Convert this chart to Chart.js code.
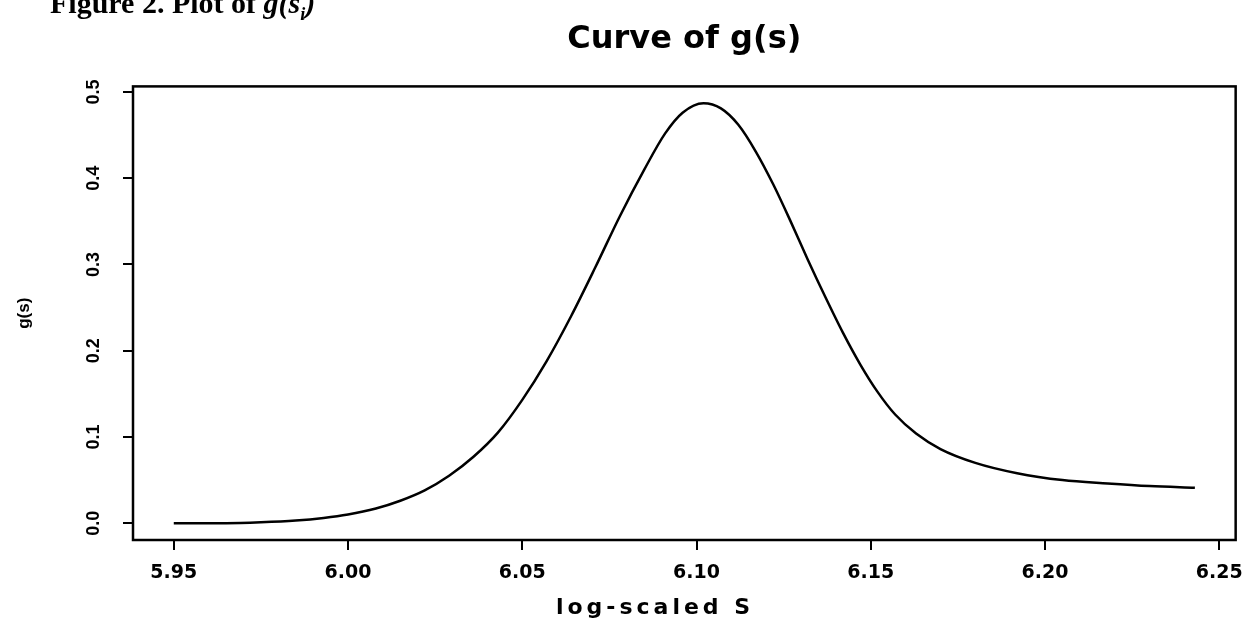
<!DOCTYPE html>
<html>
<head>
<meta charset="utf-8">
<script src="https://cdn.jsdelivr.net/npm/chart.js@4.4.1/dist/chart.umd.min.js"></script>
<style>
  html, body { margin: 0; padding: 0; background: #fff; }
  #wrap { position: relative; width: 1255px; height: 635px; overflow: hidden; }
  #fig {
    position: absolute; left: 50px; top: -12px;
    font-family: "Liberation Serif", "Times New Roman", serif;
    font-weight: bold; font-size: 30px; line-height: 30px; color: #000;
    white-space: nowrap;
  }
  #fig sub { font-size: 18px; }
  canvas { position: absolute; left: 0; top: 0; }
</style>
</head>
<body>
<div id="wrap">
  <canvas id="gChart" width="1255" height="635"></canvas>
  <div id="fig">Figure 2. Plot of <i>g(s<sub>i</sub>)</i></div>
</div>
<script>
// values
const logS = [5.950, 5.965, 5.975, 5.985, 5.993, 6.000, 6.008, 6.015, 6.022, 6.029,
  6.036, 6.043, 6.050, 6.057, 6.064, 6.071, 6.078, 6.085, 6.091, 6.096,
  6.102, 6.107, 6.112, 6.117, 6.122, 6.127, 6.132, 6.137, 6.142, 6.147,
  6.152, 6.157, 6.163, 6.170, 6.180, 6.192, 6.205, 6.218, 6.230, 6.243];
const gValues = [0.000, 0.000, 0.001, 0.003, 0.006, 0.010, 0.017, 0.026, 0.038, 0.055,
  0.077, 0.105, 0.143, 0.188, 0.240, 0.297, 0.356, 0.410, 0.452, 0.476,
  0.487, 0.481, 0.462, 0.431, 0.393, 0.350, 0.305, 0.262, 0.221, 0.184,
  0.152, 0.126, 0.104, 0.086, 0.070, 0.058, 0.050, 0.046, 0.043, 0.041];
const xTicks = [5.95, 6.00, 6.05, 6.10, 6.15, 6.20, 6.25];
const yTicks = [0.0, 0.1, 0.2, 0.3, 0.4, 0.5];

// box around the plot region, rotated y tick labels and the x axis title (R style)
const rFrame = {
  id: 'rFrame',
  afterDraw(chart) {
    const { ctx, chartArea: a } = chart;
    ctx.save();
    ctx.strokeStyle = '#000';
    ctx.lineWidth = 2.5;
    ctx.strokeRect(a.left, a.top, a.right - a.left, a.bottom - a.top);

    const yScale = chart.scales.y;
    ctx.fillStyle = '#000';
    ctx.font = 'bold 18px "Liberation Sans", Arial, sans-serif';
    ctx.textAlign = 'center';
    ctx.textBaseline = 'middle';
    yScale.ticks.forEach(t => {
      const py = yScale.getPixelForValue(t.value);
      ctx.save();
      ctx.translate(94, py);
      ctx.rotate(-Math.PI / 2);
      ctx.fillText(t.value.toFixed(1), 0, 0);
      ctx.restore();
    });

    // x axis title, spaced out like the scan
    ctx.font = 'bold 22px "DejaVu Sans", sans-serif';
    ctx.letterSpacing = '4px';
    ctx.fillText('log-scaled S', 655, 608);
    ctx.restore();
  }
};

const ctx = document.getElementById('gChart').getContext('2d');
const gChart = new Chart(ctx, {
  type: 'line',
  data: {
    datasets: [{
      data: logS.map((s, i) => ({ x: s, y: gValues[i] })),
      borderColor: '#000',
      borderWidth: 2.5,
      pointRadius: 0,
      fill: false,
      cubicInterpolationMode: 'monotone'
    }]
  },
  options: {
    responsive: false,
    animation: false,
    layout: { padding: { left: 0, right: 13, top: 0, bottom: 0 } },
    plugins: {
      legend: { display: false },
      tooltip: { enabled: false },
      title: {
        display: true,
        fullSize: false,
        text: 'Curve of g(s)',
        color: '#000',
        font: { family: '"DejaVu Sans", sans-serif', size: 32, weight: 'bold', lineHeight: 1.2 },
        padding: { top: 20, bottom: 28 }
      }
    },
    scales: {
      x: {
        type: 'linear',
        min: 5.9383,
        max: 6.2547,
        afterBuildTicks: s => { s.ticks = xTicks.map(v => ({ value: v })); },
        afterFit: s => { s.height = 95; },
        border: { display: false },
        grid: { drawOnChartArea: false, drawTicks: true, tickLength: 10, color: '#000', lineWidth: 2 },
        ticks: {
          color: '#000',
          padding: 12,
          maxRotation: 0,
          font: { family: '"DejaVu Sans", sans-serif', size: 19, weight: 'bold' },
          callback: v => v.toFixed(2)
        },
        title: { display: false }
      },
      y: {
        min: -0.0195,
        max: 0.5065,
        afterBuildTicks: s => { s.ticks = yTicks.map(v => ({ value: v })); },
        afterFit: s => { s.width = 133; },
        border: { display: false },
        grid: { drawOnChartArea: false, drawTicks: true, tickLength: 10, color: '#000', lineWidth: 2 },
        ticks: { display: false },
        title: {
          display: true,
          text: 'g(s)',
          color: '#000',
          font: { family: '"Liberation Sans", Arial, sans-serif', size: 17, weight: 'bold', lineHeight: 1.2 },
          padding: { top: 14, bottom: 0 }
        }
      }
    }
  },
  plugins: [rFrame]
});
</script>
</body>
</html>
